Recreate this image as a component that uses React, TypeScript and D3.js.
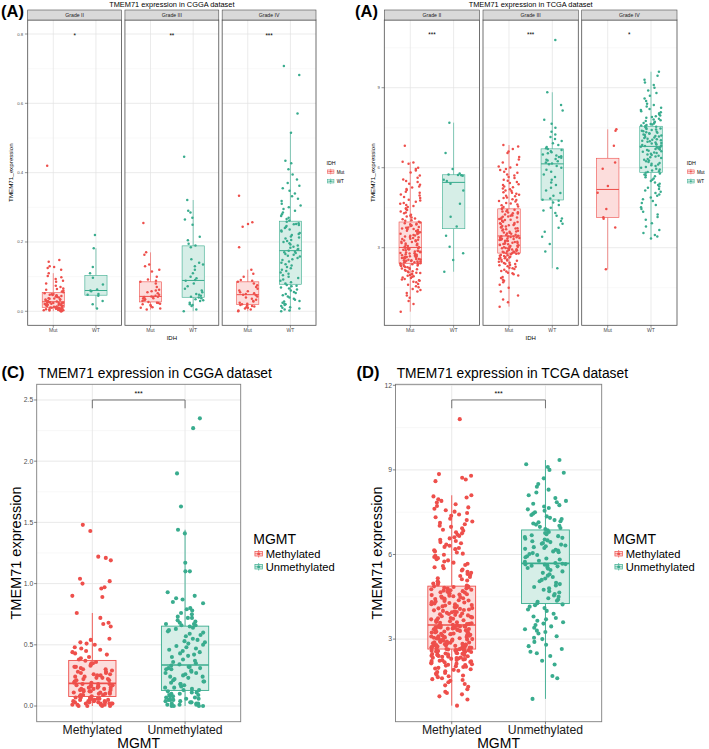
import React from "react";
import * as d3 from "d3";

const FONT = "'Liberation Sans', Arial, Helvetica, sans-serif";
const RED = "#EE4F4B";
const TEAL = "#39AC8E";
const RED_FILL = "#FCDDDC";
const TEAL_FILL = "#D6EEE7";

// ---------- categories / labels ----------
const gradeLabels = ["Grade II", "Grade III", "Grade IV"];
const idhLevels = ["Mut", "WT"];
const mgmtLevels = ["Methylated", "Unmethylated"];
const cggaStars = ["*", "**", "***"];
const tcgaStars = ["***", "***", "*"];

// ---------- tick values ----------
const cggaTicks = [0, 0.2, 0.4, 0.6, 0.8];
const cggaMinor = [0.1, 0.3, 0.5, 0.7];
const tcgaTicks = [3, 6, 9];
const tcgaMinor = [1.5, 4.5, 7.5, 10.5];
const mgmtCggaTicks = [0, 0.5, 1, 1.5, 2, 2.5];
const mgmtCggaMinor = [0.25, 0.75, 1.25, 1.75, 2.25];
const mgmtTcgaTicks = [3, 6, 9, 12];
const mgmtTcgaMinor = [1.5, 4.5, 7.5, 10.5];

// ---------- (A) CGGA, IDH by grade ----------
const cggaG2Mut = [0.000,0.000,0.001,0.002,0.003,0.003,0.004,0.005,0.005,0.006,0.007,0.007,0.008,0.008,0.009,0.010,0.010,0.004,0.002,0.006,0.009,
0.011,0.012,0.013,0.013,0.014,0.015,0.016,0.017,0.018,0.018,0.019,0.020,0.021,0.021,0.022,0.023,0.024,0.024,0.025,0.025,
0.026,0.027,0.028,0.029,0.030,0.031,0.033,0.034,0.035,0.036,0.037,0.038,0.040,0.041,0.043,0.044,0.045,0.046,0.048,0.049,0.047,
0.050,0.052,0.055,0.057,0.060,0.062,0.064,0.066,0.070,0.074,0.080,0.085,0.088,0.093,0.098,0.102,0.110,0.120,0.125,0.128,0.130,0.143,0.148,0.420];
const cggaG2WT = [0.220,0.182,0.128,0.110,0.097,0.077,0.063,0.060,0.058,0.050,0.048,0.045,0.030,0.020,0.008];
const cggaG3Mut = [0.005,0.008,0.010,0.012,0.015,0.018,0.020,0.022,0.024,0.025,
0.027,0.030,0.032,0.035,0.037,0.038,0.040,0.041,0.042,0.042,
0.043,0.045,0.048,0.052,0.055,0.058,0.060,0.062,0.070,0.080,
0.085,0.088,0.092,0.100,0.115,0.120,0.130,0.135,0.163,0.170,0.255];
const cggaG3WT = [0.000,0.005,0.015,0.018,0.020,0.025,0.030,0.032,0.035,0.038,
0.040,0.042,0.045,0.048,0.050,0.055,0.060,0.065,0.072,0.080,
0.088,0.090,0.095,0.100,0.110,0.120,0.130,0.135,0.140,0.150,
0.185,0.190,0.195,0.205,0.215,0.250,0.265,0.270,0.285,0.290,0.321,0.446];
const cggaG4Mut = [0.000,0.002,0.005,0.008,0.010,0.012,0.014,0.015,0.017,0.018,
0.020,0.022,0.025,0.028,0.030,0.033,0.036,0.040,0.043,0.046,
0.048,0.050,0.052,0.055,0.058,0.060,0.065,0.070,0.075,0.080,
0.085,0.088,0.090,0.100,0.108,0.120,0.185,0.244,0.252,0.257,0.333];
const cggaG4WT = [0.000,0.002,0.005,0.008,0.010,0.012,0.015,0.018,0.020,0.022,0.025,0.028,0.030,0.033,0.036,0.040,0.043,0.046,0.050,0.053,0.056,0.060,0.063,0.066,0.069,0.072,0.074,0.076,
0.080,0.084,0.088,0.092,0.096,0.100,0.104,0.108,0.112,0.116,0.120,0.124,0.128,0.132,0.136,0.140,0.144,0.148,0.150,0.154,0.158,0.160,0.163,0.165,0.168,0.170,0.172,
0.175,0.178,0.180,0.183,0.186,0.190,0.193,0.196,0.200,0.203,0.206,0.210,0.213,0.216,0.220,0.223,0.226,0.230,0.233,0.236,0.240,0.243,0.246,0.249,0.251,0.252,0.254,
0.258,0.262,0.266,0.270,0.275,0.280,0.285,0.290,0.295,0.300,0.305,0.310,0.318,0.325,0.332,0.340,0.348,0.355,0.362,0.370,0.380,0.395,0.410,0.427,0.434,0.515,0.571,0.682,0.708];

// ---------- (A) TCGA, IDH by grade ----------
const tcgaG2Mut = [0.60,0.89,1.00,1.12,1.21,1.30,1.36,1.41,1.45,1.52,1.55,1.61,1.64,1.70,1.72,1.76,1.78,1.81,1.83,1.86,1.88,1.91,1.93,1.95,1.98,2.00,2.02,2.05,2.06,2.08,2.11,2.12,2.14,2.16,2.19,2.20,2.22,2.24,2.27,2.28,2.30,2.31,2.33,2.34,2.36,2.37,2.38,2.40,
2.41,2.42,2.43,2.45,2.45,2.46,2.48,2.48,2.50,2.51,2.53,2.53,2.55,2.56,2.58,2.58,2.60,2.61,2.62,2.64,2.65,2.66,2.68,2.68,2.70,2.71,2.72,2.74,2.75,2.76,2.78,2.79,2.80,2.82,2.83,2.85,2.86,2.88,2.89,2.90,2.92,2.93,2.95,2.96,2.97,2.98,3.00,
3.02,3.04,3.06,3.09,3.10,3.12,3.15,3.16,3.18,3.21,3.22,3.24,3.27,3.28,3.30,3.33,3.34,3.36,3.39,3.40,3.42,3.45,3.46,3.48,3.51,3.52,3.54,3.57,3.58,3.60,3.63,3.64,3.66,3.69,3.70,3.72,3.75,3.76,3.78,3.81,3.82,3.84,3.87,3.88,3.90,3.92,3.95,
3.97,4.01,4.03,4.07,4.10,4.13,4.17,4.20,4.24,4.29,4.32,4.36,4.41,4.44,4.48,4.53,4.56,4.60,4.65,4.68,4.72,4.77,4.80,4.86,4.90,4.96,5.00,5.06,5.10,5.16,5.20,5.26,5.30,5.36,5.40,5.46,5.50,5.56,5.62,5.71,5.82,5.90,5.95,6.00,6.15,6.20,6.22,6.82];
const tcgaG2WT = [2.10,2.54,2.79,3.04,3.45,3.80,4.16,4.65,5.15,5.40,5.50,5.55,5.70,5.72,5.73,5.75,5.78,5.95,6.55,7.69];
const tcgaG3Mut = [0.79,0.95,1.06,1.21,1.36,1.50,1.61,1.70,1.76,1.80,1.86,1.90,1.96,2.00,2.04,2.06,2.11,2.13,2.17,2.20,2.23,2.25,2.29,2.30,2.34,2.35,2.39,2.40,2.43,2.44,2.47,2.48,2.51,2.52,2.55,2.56,2.59,2.60,2.62,2.63,2.65,2.66,2.69,2.70,2.72,2.73,2.75,2.77,2.78,2.79,
2.80,2.82,2.83,2.85,2.86,2.87,2.89,2.90,2.91,2.93,2.94,2.95,2.97,2.98,2.99,3.01,3.02,3.03,3.05,3.06,3.07,3.09,3.10,3.11,3.13,3.14,3.15,3.17,3.18,3.19,3.21,3.22,3.23,3.25,3.26,3.27,3.29,3.30,3.31,3.33,3.34,3.35,3.36,3.37,3.38,3.39,3.40,3.42,3.42,3.43,
3.45,3.48,3.49,3.52,3.53,3.56,3.57,3.60,3.61,3.64,3.65,3.68,3.69,3.72,3.73,3.76,3.77,3.80,3.81,3.84,3.85,3.88,3.89,3.92,3.93,3.96,3.97,4.00,4.01,4.04,4.05,4.08,4.09,4.12,4.13,4.16,4.17,4.20,4.21,4.24,4.25,4.28,4.29,4.32,4.33,4.36,4.37,4.41,4.42,4.45,
4.48,4.53,4.55,4.59,4.62,4.66,4.68,4.73,4.75,4.79,4.82,4.86,4.88,4.93,4.95,4.99,5.02,5.06,5.08,5.13,5.15,5.19,5.22,5.27,5.30,5.35,5.38,5.43,5.46,5.51,5.55,5.61,5.65,5.71,5.75,5.81,5.85,5.91,5.95,6.01,6.05,6.11,6.20,6.31,6.40,6.55,6.61,6.70,6.80,6.85];
const tcgaG3WT = [2.23,2.86,3.14,3.41,3.60,3.75,3.90,4.00,4.10,4.20,4.30,4.40,4.50,4.60,4.70,4.76,
4.80,4.85,4.95,5.05,5.15,5.25,5.35,5.45,5.55,5.65,5.75,5.85,5.92,6.00,6.06,6.13,
6.16,6.20,6.24,6.27,6.30,6.33,6.37,6.40,6.43,6.46,6.50,6.54,6.58,6.62,6.66,6.70,
6.73,6.78,6.85,6.92,7.00,7.08,7.15,7.25,7.35,7.50,7.65,7.80,8.15,8.35,8.83,10.79];
const tcgaG4Mut = [7.44,7.39,6.82,6.20,5.96,5.31,5.06,4.45,4.14,4.09,3.76,2.19];
const tcgaG4WT = [3.35,3.42,3.48,3.55,3.66,3.80,3.92,4.05,4.15,4.25,4.35,4.45,4.52,4.60,4.68,4.75,4.82,4.88,4.95,5.00,5.05,5.10,5.15,5.20,5.25,5.30,5.35,5.40,5.45,5.50,5.55,5.60,5.64,5.68,5.72,5.75,5.78,5.81,
5.84,5.87,5.90,5.93,5.96,6.00,6.03,6.06,6.09,6.12,6.15,6.18,6.21,6.24,6.27,6.30,6.33,6.36,6.39,6.42,6.45,6.48,6.50,6.52,6.55,6.57,6.60,6.62,6.64,6.66,6.68,6.70,6.72,6.74,6.76,6.78,6.79,
6.81,6.83,6.85,6.87,6.89,6.91,6.93,6.95,6.97,6.99,7.01,7.03,7.05,7.07,7.09,7.11,7.13,7.15,7.17,7.19,7.21,7.23,7.25,7.27,7.29,7.31,7.33,7.35,7.37,7.39,7.41,7.43,7.45,7.47,7.49,7.52,7.54,
7.56,7.58,7.60,7.62,7.64,7.66,7.68,7.70,7.72,7.75,7.78,7.81,7.84,7.87,7.90,7.93,7.96,8.00,8.04,8.08,8.12,8.16,8.20,8.25,8.30,8.35,8.40,8.50,8.60,8.70,8.80,8.90,9.00,9.10,9.20,9.30,9.45,9.60];

// ---------- (C) CGGA, MGMT ----------
const cggaMeth = [0.00,0.00,0.00,0.01,0.01,0.01,0.02,0.02,0.02,0.02,0.03,0.03,0.03,0.03,0.04,0.04,0.04,0.04,0.05,0.05,0.05,0.05,0.06,0.06,0.06,0.06,0.07,0.07,0.07,0.00,0.01,0.02,
0.08,0.08,0.09,0.09,0.09,0.10,0.10,0.10,0.11,0.11,0.11,0.12,0.12,0.12,0.13,0.13,0.13,0.14,0.14,0.14,0.15,0.15,0.15,0.16,0.16,0.16,0.17,0.17,0.17,0.18,0.18,0.18,
0.19,0.19,0.20,0.20,0.21,0.21,0.22,0.22,0.23,0.23,0.24,0.24,0.25,0.25,0.26,0.26,0.27,0.27,0.28,0.28,0.29,0.30,0.30,0.31,0.32,0.32,0.33,0.34,0.35,0.35,0.36,0.37,
0.38,0.39,0.40,0.42,0.43,0.45,0.46,0.47,0.48,0.50,0.51,0.52,0.54,0.55,0.65,0.67,0.68,0.72,0.76,0.44,
0.89,0.90,0.96,0.97,1.00,1.02,1.04,1.19,1.21,1.22,1.43,1.48];
const cggaUnmeth = [0.00,0.00,0.00,0.00,0.01,0.01,0.01,0.02,0.02,0.02,0.03,0.03,0.04,0.04,0.05,0.05,0.05,0.06,0.06,0.07,0.07,0.08,0.08,0.09,0.09,0.10,0.10,0.11,0.11,0.12,
0.13,0.13,0.14,0.15,0.15,0.16,0.17,0.18,0.18,0.19,0.20,0.20,0.21,0.22,0.23,0.24,0.24,0.25,0.26,0.27,0.27,0.28,0.29,0.30,0.30,0.31,0.31,0.32,0.32,0.33,
0.34,0.35,0.36,0.37,0.38,0.40,0.41,0.42,0.43,0.44,0.45,0.46,0.47,0.48,0.49,0.50,0.51,0.52,0.53,0.54,0.55,0.57,0.58,0.59,0.60,0.61,0.62,0.63,0.64,0.65,
0.66,0.66,0.67,0.68,0.70,0.72,0.73,0.75,0.76,0.78,0.79,0.80,0.84,0.85,0.87,0.88,0.90,0.93,0.72,0.69,0.67,1.10,1.10,1.17,1.41,1.44,1.63,1.90,2.27,2.35];

// ---------- (D) TCGA, MGMT ----------
const tcgaMeth = [0.64,0.86,0.97,1.04,1.09,1.13,1.22,1.31,1.36,1.41,1.47,1.52,1.55,1.58,1.61,1.65,1.68,1.71,1.74,1.78,
1.80,1.83,1.86,1.88,1.91,1.93,1.96,1.98,2.01,2.02,2.04,2.06,2.08,2.09,2.11,2.13,2.14,2.16,2.18,2.19,
2.21,2.22,2.23,2.25,2.26,2.28,2.29,2.30,2.31,2.33,2.34,2.35,2.37,2.38,2.39,2.40,2.41,2.43,2.44,2.45,
2.46,2.47,2.48,2.49,2.50,2.52,2.53,2.54,2.55,2.56,2.57,2.58,2.59,2.60,2.60,2.61,2.62,2.63,2.63,2.64,
2.65,2.66,2.67,2.68,2.69,2.70,2.71,2.72,2.73,2.74,2.75,2.76,2.77,2.78,2.79,2.80,2.81,2.82,2.83,2.84,
2.85,2.86,2.87,2.88,2.89,2.90,2.91,2.92,2.94,2.95,2.96,2.97,2.98,2.99,3.00,3.01,3.02,3.03,3.05,3.06,
3.07,3.08,3.09,3.10,3.12,3.13,3.14,3.15,3.17,3.18,3.19,3.20,3.21,3.23,3.24,3.25,3.26,3.27,3.29,3.30,
3.31,3.32,3.33,3.34,3.35,3.36,3.37,3.38,3.39,3.40,3.41,3.42,3.43,3.44,3.45,3.46,3.47,3.47,3.48,3.49,
3.51,3.53,3.54,3.56,3.58,3.60,3.61,3.63,3.65,3.67,3.68,3.70,3.72,3.74,3.75,3.77,3.79,3.81,3.82,3.84,
3.86,3.88,3.89,3.91,3.93,3.95,3.96,3.98,4.00,4.02,4.03,4.05,4.07,4.09,4.10,4.12,4.14,4.16,4.17,4.19,
4.21,4.23,4.24,4.26,4.28,4.30,4.31,4.33,4.35,4.37,4.38,4.40,4.42,4.44,4.45,4.47,4.49,4.51,4.52,4.54,
4.56,4.58,4.59,4.61,4.63,4.65,4.66,4.68,4.70,4.72,4.73,4.75,4.77,4.79,4.80,4.82,4.84,4.85,4.86,4.87,
4.90,4.94,4.97,5.01,5.05,5.08,5.12,5.16,5.20,5.24,5.27,5.31,5.35,5.39,5.43,5.47,5.51,5.55,5.59,5.63,
5.67,5.71,5.75,5.79,5.83,5.87,5.91,5.95,5.99,6.03,6.07,6.11,6.15,6.19,6.23,6.27,6.31,6.35,6.40,6.44,
6.48,6.52,6.57,6.61,6.66,6.70,6.75,6.79,6.84,6.88,6.93,6.98,7.02,7.07,7.12,7.17,7.22,7.27,7.32,7.37,
7.42,7.47,7.52,7.57,7.62,7.67,7.72,7.78,7.84,7.90,7.96,8.02,8.06,8.10,8.60,8.66,8.72,8.79,8.85,10.80];
const tcgaUnmeth = [0.88,1.61,1.69,2.10,2.23,2.40,2.50,2.55,2.65,2.75,2.80,2.90,3.00,3.05,3.10,3.20,3.25,3.30,3.35,3.40,3.45,3.50,3.55,3.60,3.65,3.70,3.75,3.80,3.90,4.00,4.05,4.10,4.15,4.20,4.23,
4.27,4.32,4.36,4.40,4.45,4.50,4.55,4.60,4.65,4.70,4.75,4.80,4.85,4.90,4.95,5.00,5.05,5.10,5.15,5.20,5.25,5.30,5.35,5.40,5.45,5.50,5.52,5.55,5.58,5.60,5.62,5.64,5.65,5.66,5.67,
5.70,5.74,5.78,5.82,5.86,5.90,5.94,5.98,6.02,6.05,6.08,6.11,6.14,6.17,6.20,6.23,6.26,6.29,6.32,6.35,6.38,6.41,6.44,6.47,6.50,6.53,6.56,6.59,6.62,6.65,6.68,6.72,6.76,6.80,6.86,
6.90,6.94,6.98,7.02,7.06,7.10,7.14,7.18,7.22,7.26,7.30,7.35,7.40,7.45,7.50,7.55,7.60,7.65,7.70,7.75,7.80,7.85,7.90,8.00,8.10,8.20,8.30,8.40,8.50,8.70,8.90,9.00,9.10,9.20,9.35];

// ---------- helpers ----------
function boxStats(vals: number[]) {
  const s = vals.slice().sort(d3.ascending);
  const q1 = d3.quantile(s, 0.25) as number;
  const med = d3.quantile(s, 0.5) as number;
  const q3 = d3.quantile(s, 0.75) as number;
  const iqr = q3 - q1;
  const lo = d3.min(s.filter((v) => v >= q1 - 1.5 * iqr)) as number;
  const hi = d3.max(s.filter((v) => v <= q3 + 1.5 * iqr)) as number;
  return { q1, med, q3, lo, hi };
}

function hash01(i: number, seed: number) {
  const s = Math.sin(i * 127.1 + seed * 311.7 + 1.3) * 43758.5453;
  return s - Math.floor(s);
}

function BoxJitter({ cx, halfBox, halfJit, y, values, color, fill, r, lw, seed }: any) {
  const st = boxStats(values);
  return (
    <g>
      <line x1={cx} x2={cx} y1={y(st.hi)} y2={y(st.q3)} stroke={color} strokeWidth={lw} />
      <line x1={cx} x2={cx} y1={y(st.q1)} y2={y(st.lo)} stroke={color} strokeWidth={lw} />
      <rect x={cx - halfBox} y={y(st.q3)} width={2 * halfBox} height={y(st.q1) - y(st.q3)} fill={fill} stroke={color} strokeWidth={lw} />
      <line x1={cx - halfBox} x2={cx + halfBox} y1={y(st.med)} y2={y(st.med)} stroke={color} strokeWidth={lw * 1.7} />
      {values.map((v: number, i: number) => (
        <circle key={i} cx={cx + (hash01(i, seed) - 0.5) * 2 * halfJit} cy={y(v)} r={r} fill={color} />
      ))}
    </g>
  );
}

function LegendKey({ x, y, w, h, color, fill, lw, r }: any) {
  const cx = x + w / 2;
  const cy = y + h / 2;
  return (
    <g>
      <line x1={cx} x2={cx} y1={y} y2={y + h} stroke={color} strokeWidth={lw} />
      <rect x={x + w * 0.1} y={y + h * 0.2} width={w * 0.8} height={h * 0.6} fill={fill} stroke={color} strokeWidth={lw} />
      <line x1={x + w * 0.1} x2={x + w * 0.9} y1={cy} y2={cy} stroke={color} strokeWidth={lw} />
      <circle cx={cx} cy={cy} r={r} fill={color} />
    </g>
  );
}

const COLORS = [RED, TEAL];
const FILLS = [RED_FILL, TEAL_FILL];

function TopChart({ x0, x1, yDomain, ticks, minor, fmt, groups, stars, starV, title, tagX, legendX, yTitleX, seed }: any) {
  const top = 20;
  const bottom = 325.3;
  const gap = 3.4;
  const fw = (x1 - x0 - 2 * gap) / 3;
  const y = d3.scaleLinear().domain(yDomain).range([bottom, top]);
  const xs = d3.scalePoint<string>().domain(idhLevels).range([0, fw]).padding(0.6);
  const step = xs.step();
  const mid = (x0 + x1) / 2;
  const starFs = 6.3;
  return (
    <g fontFamily={FONT}>
      <text x={tagX} y={17} fontSize={16.5} fontWeight="bold">(A)</text>
      <text x={mid} y={7.3} fontSize={7.4} textAnchor="middle">{title}</text>
      {gradeLabels.map((g, fi) => {
        const fx = x0 + fi * (fw + gap);
        return (
          <g key={g}>
            <rect x={fx} y={top} width={fw} height={bottom - top} fill="#fff" />
            {minor.map((v: number) => (
              <line key={"m" + v} x1={fx} x2={fx + fw} y1={y(v)} y2={y(v)} stroke="#F2F2F2" strokeWidth={0.5} />
            ))}
            {ticks.map((v: number) => (
              <line key={"t" + v} x1={fx} x2={fx + fw} y1={y(v)} y2={y(v)} stroke="#E3E3E3" strokeWidth={0.7} />
            ))}
            {idhLevels.map((l) => (
              <line key={"v" + l} x1={fx + (xs(l) as number)} x2={fx + (xs(l) as number)} y1={top} y2={bottom} stroke="#E3E3E3" strokeWidth={0.7} />
            ))}
            {idhLevels.map((l, li) => (
              <BoxJitter key={l} cx={fx + (xs(l) as number)} halfBox={step * 0.26} halfJit={step * 0.24} y={y}
                values={groups[fi][li]} color={COLORS[li]} fill={FILLS[li]} r={1.25} lw={0.6} seed={seed + fi * 7 + li * 3} />
            ))}
            <rect x={fx} y={top} width={fw} height={bottom - top} fill="none" stroke="#4D4D4D" strokeWidth={0.8} />
            <rect x={fx} y={10} width={fw} height={10} fill="#D9D9D9" stroke="#4D4D4D" strokeWidth={0.6} />
            <text x={fx + fw / 2} y={16.8} fontSize={5.2} textAnchor="middle" fill="#1A1A1A">{g}</text>
            <text x={fx + ((xs("Mut") as number) + (xs("WT") as number)) / 2} y={y(starV) + 0.57 * starFs} fontSize={starFs} textAnchor="middle">{stars[fi]}</text>
            {idhLevels.map((l) => (
              <g key={"x" + l}>
                <line x1={fx + (xs(l) as number)} x2={fx + (xs(l) as number)} y1={bottom} y2={bottom + 2.5} stroke="#4D4D4D" strokeWidth={0.6} />
                <text x={fx + (xs(l) as number)} y={332} fontSize={5.1} textAnchor="middle" fill="#4D4D4D">{l}</text>
              </g>
            ))}
          </g>
        );
      })}
      {ticks.map((v: number) => (
        <g key={"yt" + v}>
          <line x1={x0 - 2.8} x2={x0} y1={y(v)} y2={y(v)} stroke="#4D4D4D" strokeWidth={0.6} />
          <text x={x0 - 4.5} y={y(v) + 1.5} fontSize={4.3} textAnchor="end" fill="#4D4D4D">{fmt(v)}</text>
        </g>
      ))}
      <text transform={`translate(${yTitleX},${(top + bottom) / 2}) rotate(-90)`} fontSize={6.2} textAnchor="middle">TMEM71_expression</text>
      <text x={mid} y={340} fontSize={6} textAnchor="middle">IDH</text>
      <text x={legendX} y={165} fontSize={5.3}>IDH</text>
      {idhLevels.map((l, li) => (
        <g key={"lg" + l}>
          <LegendKey x={legendX} y={168.8 + li * 9.7} w={8.3} h={5.6} color={COLORS[li]} fill={FILLS[li]} lw={0.5} r={1} />
          <text x={legendX + 10.2} y={173.6 + li * 9.7} fontSize={4.6}>{l}</text>
        </g>
      ))}
    </g>
  );
}

function BottomChart({ x0, x1, yDomain, ticks, minor, fmt, groups, tag, tagX, title, titleX, legendX, bracketV, yTitleX, seed }: any) {
  const top = 384.3;
  const bottom = 721.7;
  const y = d3.scaleLinear().domain(yDomain).range([bottom, top]);
  const xs = d3.scalePoint<string>().domain(mgmtLevels).range([x0, x1]).padding(0.6);
  const step = xs.step();
  const mid = (x0 + x1) / 2;
  const by = y(bracketV);
  const xa = xs("Methylated") as number;
  const xb = xs("Unmethylated") as number;
  return (
    <g fontFamily={FONT}>
      <text x={tagX} y={378} fontSize={16.5} fontWeight="bold">{tag}</text>
      <text x={titleX} y={378.3} fontSize={13.8}>{title}</text>
      <rect x={x0} y={top} width={x1 - x0} height={bottom - top} fill="#fff" />
      {minor.map((v: number) => (
        <line key={"m" + v} x1={x0} x2={x1} y1={y(v)} y2={y(v)} stroke="#F3F3F3" strokeWidth={0.6} />
      ))}
      {ticks.map((v: number) => (
        <line key={"t" + v} x1={x0} x2={x1} y1={y(v)} y2={y(v)} stroke="#E6E6E6" strokeWidth={0.9} />
      ))}
      {mgmtLevels.map((l) => (
        <line key={"v" + l} x1={xs(l) as number} x2={xs(l) as number} y1={top} y2={bottom} stroke="#E6E6E6" strokeWidth={0.9} />
      ))}
      {mgmtLevels.map((l, li) => (
        <BoxJitter key={l} cx={xs(l) as number} halfBox={step * 0.255} halfJit={step * 0.22} y={y}
          values={groups[li]} color={COLORS[li]} fill={FILLS[li]} r={2.05} lw={0.9} seed={seed + li * 5} />
      ))}
      <rect x={x0} y={top} width={x1 - x0} height={bottom - top} fill="none" stroke="#7F7F7F" strokeWidth={0.9} />
      <path d={`M${xa},${by + 8.3}V${by}H${xb}V${by + 8.3}`} fill="none" stroke="#666" strokeWidth={0.9} />
      <text x={(xa + xb) / 2} y={by - 3.7} fontSize={7} textAnchor="middle">***</text>
      {ticks.map((v: number) => (
        <g key={"yt" + v}>
          <line x1={x0 - 2.6} x2={x0} y1={y(v)} y2={y(v)} stroke="#4D4D4D" strokeWidth={0.7} />
          <text x={x0 - 3.4} y={y(v) + 2.4} fontSize={6.8} textAnchor="end" fill="#4D4D4D">{fmt(v)}</text>
        </g>
      ))}
      {mgmtLevels.map((l) => (
        <g key={"x" + l}>
          <line x1={xs(l) as number} x2={xs(l) as number} y1={bottom} y2={bottom + 2.6} stroke="#4D4D4D" strokeWidth={0.7} />
          <text x={xs(l) as number} y={734} fontSize={12.2} textAnchor="middle" fill="#1A1A1A">{l}</text>
        </g>
      ))}
      <text x={mid} y={747.5} fontSize={14} textAnchor="middle">MGMT</text>
      <text transform={`translate(${yTitleX},${(top + bottom) / 2}) rotate(-90)`} fontSize={14.5} textAnchor="middle">TMEM71 expression</text>
      <text x={legendX} y={544} fontSize={14}>MGMT</text>
      {mgmtLevels.map((l, li) => (
        <g key={"lg" + l}>
          <LegendKey x={legendX + 0.7} y={550 + li * 13} w={9.3} h={7.5} color={COLORS[li]} fill={FILLS[li]} lw={0.7} r={1.5} />
          <text x={legendX + 12.4} y={558 + li * 13} fontSize={11.2}>{l}</text>
        </g>
      ))}
    </g>
  );
}

export default function App() {
  return (
    <svg width={709} height={749} viewBox="0 0 709 749" style={{ position: "absolute", left: 0, top: 0, background: "#fff" }}>
      <rect x={0} y={0} width={709} height={749} fill="#fff" />
      <TopChart x0={27.7} x1={316} yDomain={[-0.0404, 0.8404]} ticks={cggaTicks} minor={cggaMinor} fmt={d3.format(".1f")}
        groups={[[cggaG2Mut, cggaG2WT], [cggaG3Mut, cggaG3WT], [cggaG4Mut, cggaG4WT]]}
        stars={cggaStars} starV={0.8} title="TMEM71 expression in CGGA dataset" tagX={1} legendX={326.5} yTitleX={13} seed={1} />
      <TopChart x0={384.3} x1={677} yDomain={[0.09, 11.54]} ticks={tcgaTicks} minor={tcgaMinor} fmt={d3.format("d")}
        groups={[[tcgaG2Mut, tcgaG2WT], [tcgaG3Mut, tcgaG3WT], [tcgaG4Mut, tcgaG4WT]]}
        stars={tcgaStars} starV={11.05} title="TMEM71 expression in TCGA dataset" tagX={355} legendX={686.7} yTitleX={374.7} seed={11} />
      <BottomChart x0={36.7} x1={240.7} yDomain={[-0.128, 2.628]} ticks={mgmtCggaTicks} minor={mgmtCggaMinor} fmt={d3.format(".1f")}
        groups={[cggaMeth, cggaUnmeth]} tag="(C)" tagX={1.5} title="TMEM71 expression in CGGA dataset" titleX={38}
        legendX={253.3} bracketV={2.5} yTitleX={20.5} seed={21} />
      <BottomChart x0={395.5} x1={601.7} yDomain={[0.071, 12.035]} ticks={mgmtTcgaTicks} minor={mgmtTcgaMinor} fmt={d3.format("d")}
        groups={[tcgaMeth, tcgaUnmeth]} tag="(D)" tagX={356.5} title="TMEM71 expression in TCGA dataset" titleX={396.7}
        legendX={613.3} bracketV={11.48} yTitleX={381.7} seed={31} />
    </svg>
  );
}
